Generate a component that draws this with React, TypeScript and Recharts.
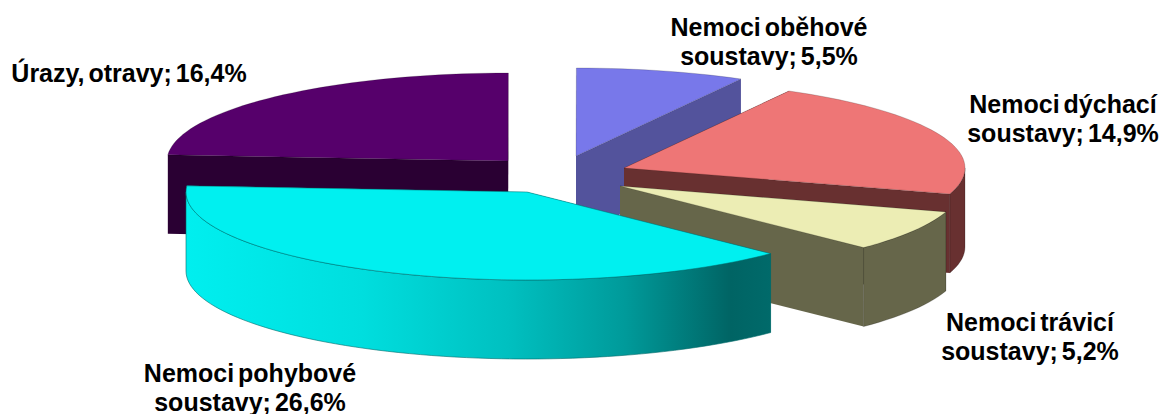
import React from "react";
import { PieChart, Pie } from "recharts";

const WIDTH = 1163;
const HEIGHT = 414;

// data, drawn from the back of the pie to the front
const names = ["Úrazy, otravy", "Nemoci oběhové soustavy", "Nemoci dýchací soustavy", "Nemoci trávicí soustavy", "Nemoci pohybové soustavy"];
const values = [16.4, 5.5, 14.9, 5.2, 26.6];
const labelLines = [
  ["Úrazy, otravy; 16,4%"],
  ["Nemoci oběhové", "soustavy; 5,5%"],
  ["Nemoci dýchací", "soustavy; 14,9%"],
  ["Nemoci trávicí", "soustavy; 5,2%"],
  ["Nemoci pohybové", "soustavy; 26,6%"],
];

// styles
const topColors = ["#56006b", "#7878ea", "#ee7676", "#ecedb4", "#00f0f0"];
const wallColors = ["#2a0033", "#53539c", "#683030", "#66664a", "url(#cyanWall)"];
const explodeX = [-42, 26, 74, 70, -23];
const explodeY = [-9, -14, -2, 16, 22];
const labelX = [129, 769, 1063, 1030, 250];
const labelY = [82, 36, 113, 331, 382];

const CX = 550;
const CY = 170;
const RX = 341;
const TILT = 88 / 341;
const DEPTH = 79;
const RAD = Math.PI / 180;

const chartData = names.map((name, i) => ({ name, value: values[i], fill: topColors[i] }));

function SliceShape(props: any) {
  const { cx, cy, outerRadius, startAngle, endAngle, index } = props;
  const ox = cx + explodeX[index];
  const oy = cy + explodeY[index];
  const rx = outerRadius;
  const ry = outerRadius * TILT;
  const pt = (a: number, d = 0): [number, number] => [ox + rx * Math.cos(a * RAD), oy - ry * Math.sin(a * RAD) + d];
  const arc = (a0: number, a1: number, d = 0) => {
    const n = Math.max(2, Math.ceil(Math.abs(a1 - a0) / 2));
    const out: [number, number][] = [];
    for (let i = 0; i <= n; i++) out.push(pt(a0 + ((a1 - a0) * i) / n, d));
    return out;
  };
  const poly = (p: [number, number][]) => "M" + p.map((q) => q[0].toFixed(2) + "," + q[1].toFixed(2)).join("L") + "Z";

  const lo = Math.min(startAngle, endAngle);
  const hi = Math.max(startAngle, endAngle);
  // visible part of the rim: where sin(angle) < 0, the half facing the viewer
  const walls: [number, number][] = [];
  for (const k of [-360, 0, 360]) {
    const a = Math.max(lo, 180 + k);
    const b = Math.min(hi, 360 + k);
    if (a < b) walls.push([a, b]);
  }
  const wall = wallColors[index];
  const stroke = index === 4 ? "#006a6a" : "rgba(0,0,0,0.35)";
  const center: [number, number] = [ox, oy];
  const below: [number, number] = [ox, oy + DEPTH];
  return (
    <g>
      <path d={poly([center, pt(startAngle), pt(startAngle, DEPTH), below])} fill={wall} />
      <path d={poly([center, pt(endAngle), pt(endAngle, DEPTH), below])} fill={wall} />
      {walls.map(([a, b], i) => (
        <path key={i} d={poly([...arc(a, b), ...arc(b, a, DEPTH)])} fill={wall} stroke={stroke} strokeWidth={0.6} />
      ))}
      <path d={poly([center, ...arc(startAngle, endAngle)])} fill={topColors[index]} stroke={stroke} strokeWidth={0.5} />
    </g>
  );
}

function renderLabel(props: any) {
  const i = props.index;
  return (
    <text
      key={i}
      x={labelX[i]}
      y={labelY[i]}
      textAnchor="middle"
      fontFamily="'Liberation Sans', Arial, sans-serif"
      fontWeight="bold"
      fontSize={25}
      wordSpacing={-3}
      fill="#000"
    >
      {labelLines[i].map((line, j) => (
        <tspan key={j} x={labelX[i]} dy={j === 0 ? 0 : 28.5}>
          {line}
        </tspan>
      ))}
    </text>
  );
}

export default function App() {
  return (
    <div style={{ position: "absolute", left: 0, top: 0, width: WIDTH, height: HEIGHT, overflow: "hidden", background: "#fff" }}>
      <PieChart width={WIDTH} height={HEIGHT} margin={{ top: 0, right: 0, bottom: 0, left: 0 }}>
        <defs>
          <linearGradient id="cyanWall" gradientUnits="userSpaceOnUse" x1="186" y1="0" x2="772" y2="0">
            <stop offset="0" stopColor="#00efef" />
            <stop offset="0.3" stopColor="#00dede" />
            <stop offset="0.55" stopColor="#00c0c0" />
            <stop offset="0.75" stopColor="#009a9a" />
            <stop offset="0.93" stopColor="#006464" />
            <stop offset="1" stopColor="#006a6a" />
          </linearGradient>
        </defs>
        <Pie
          data={chartData}
          dataKey="value"
          nameKey="name"
          cx={CX}
          cy={CY}
          innerRadius={0}
          outerRadius={RX}
          startAngle={176}
          endAngle={-184}
          stroke="none"
          paddingAngle={0}
          isAnimationActive={false}
          shape={SliceShape}
          label={renderLabel}
          labelLine={false}
          rootTabIndex={-1}
        />
      </PieChart>
    </div>
  );
}
